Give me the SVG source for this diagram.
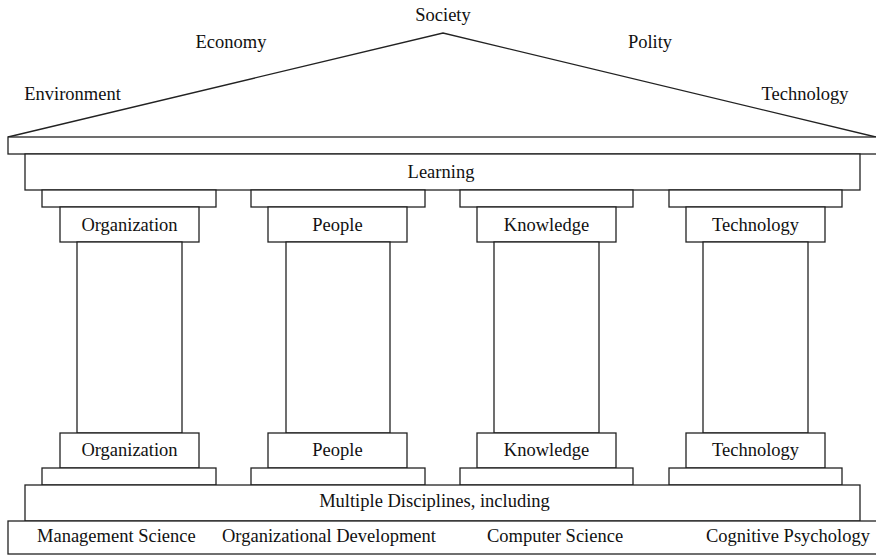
<svg xmlns="http://www.w3.org/2000/svg" width="876" height="555" viewBox="0 0 876 555">
<style>
.s{fill:#fff;stroke:#222;stroke-width:1.3}
.l{fill:none;stroke:#222;stroke-width:1.3}
.t{font-family:'Liberation Serif','DejaVu Serif',serif;font-size:18.5px;fill:#111}
.m{text-anchor:middle}
</style>
<rect width="876" height="555" fill="#fff"/>
<g id="roof" class="t">
<polyline class="l" points="8,137 443,33 876,137"/>
<text class="m" x="443" y="21">Society</text>
<text class="m" x="231" y="48">Economy</text>
<text class="m" x="650" y="48">Polity</text>
<text class="m" x="72.5" y="100">Environment</text>
<text class="m" x="805" y="100">Technology</text>
</g>
<g id="architrave"><rect class="s" x="8" y="137" width="880" height="17"/></g>
<g id="learning" class="t"><rect class="s" x="25" y="154" width="835" height="36"/><text class="m" x="441" y="178">Learning</text></g>
<g id="pillar-organization" class="t">
<rect class="s" x="42" y="190" width="174" height="17"/>
<rect class="s" x="60" y="207" width="139" height="35"/>
<rect class="s" x="77" y="242" width="105" height="191"/>
<rect class="s" x="60" y="433" width="139" height="35"/>
<rect class="s" x="42" y="468" width="174" height="17"/>
<text class="m" x="129.5" y="231">Organization</text>
<text class="m" x="129.5" y="456">Organization</text>
</g>
<g id="pillar-people" class="t">
<rect class="s" x="251" y="190" width="174" height="17"/>
<rect class="s" x="268" y="207" width="139" height="35"/>
<rect class="s" x="286" y="242" width="104" height="191"/>
<rect class="s" x="268" y="433" width="139" height="35"/>
<rect class="s" x="251" y="468" width="174" height="17"/>
<text class="m" x="337.5" y="231">People</text>
<text class="m" x="337.5" y="456">People</text>
</g>
<g id="pillar-knowledge" class="t">
<rect class="s" x="460" y="190" width="173" height="17"/>
<rect class="s" x="477" y="207" width="139" height="35"/>
<rect class="s" x="494" y="242" width="105" height="191"/>
<rect class="s" x="477" y="433" width="139" height="35"/>
<rect class="s" x="460" y="468" width="173" height="17"/>
<text class="m" x="546.5" y="231">Knowledge</text>
<text class="m" x="546.5" y="456">Knowledge</text>
</g>
<g id="pillar-technology" class="t">
<rect class="s" x="669" y="190" width="173" height="17"/>
<rect class="s" x="686" y="207" width="139" height="35"/>
<rect class="s" x="703" y="242" width="105" height="191"/>
<rect class="s" x="686" y="433" width="139" height="35"/>
<rect class="s" x="669" y="468" width="173" height="17"/>
<text class="m" x="755.5" y="231">Technology</text>
<text class="m" x="755.5" y="456">Technology</text>
</g>
<g id="disciplines" class="t"><rect class="s" x="25" y="485" width="835" height="36"/><text class="m" x="434.5" y="507">Multiple Disciplines, including</text></g>
<g id="base" class="t">
<rect class="s" x="8" y="521" width="880" height="33"/>
<text x="37" y="542">Management Science</text>
<text x="222" y="542">Organizational Development</text>
<text x="487" y="542">Computer Science</text>
<text x="706" y="542">Cognitive Psychology</text>
</g>
<g id="connectors"/>
</svg>
